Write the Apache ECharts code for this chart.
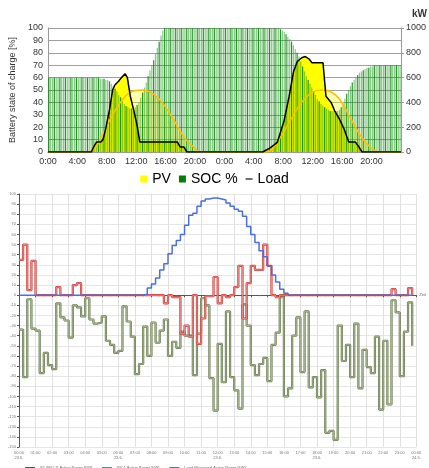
<!DOCTYPE html>
<html>
<head>
<meta charset="utf-8">
<script src="https://cdn.jsdelivr.net/npm/echarts@6/dist/echarts.min.js"></script>
<style>
html, body { margin: 0; padding: 0; background: #fff; }
#top { position: absolute; left: 0; top: 0; width: 429px; height: 188px; }
#bottom { position: absolute; left: 0; top: 188px; width: 429px; height: 280px; }
</style>
</head>
<body>
<div id="top"></div>
<div id="bottom"></div>
<script>
// ===== top chart data (two days, 15 min SOC bars) =====
var topTickLabels = ['0:00', '4:00', '8:00', '12:00', '16:00', '20:00',
                     '0:00', '4:00', '8:00', '12:00', '16:00', '20:00'];

var socDay1 = [
  60, 60, 60, 60, 60, 60, 60, 60,
  60, 60, 60, 60, 60, 60, 60, 60,
  60, 60, 60, 60, 60, 60, 60, 60,
  60, 60, 60, 60,
  59, 59, 59, 58, 58, 57, 55, 53, 51, 49, 46, 44,
  41, 39, 37, 36, 35, 35, 35, 36, 38, 40, 44, 48,
  52, 56, 61, 66, 70, 74, 79, 84, 89, 94, 98, 100,
  100, 100, 100, 100, 100, 100, 100, 100,
  100, 100, 100, 100, 100, 100, 100, 100,
  100, 100, 100, 100, 100, 100, 100, 100,
  100, 100, 100, 100, 100, 100, 100, 100
];
var socDay2 = [
  100, 100, 100, 100, 100, 100, 100, 100, 100, 100,
  100, 100, 100, 100, 100, 100, 100, 100, 100, 100,
  100, 100, 100, 100, 100, 100, 100, 100, 100, 100,
  99, 98, 97, 95, 93, 91, 89, 86, 83, 80, 77, 73,
  69, 65, 61, 58, 55, 52, 49, 46, 43, 41, 39, 37,
  36, 35, 34, 33, 33, 33, 33, 33, 34, 36, 39, 43,
  47, 50, 53, 56, 58, 60, 62, 64, 65, 66, 67, 68,
  68, 69, 69,
  70, 70, 70, 70, 70, 70, 70, 70, 70, 70, 70, 70, 70, 70, 70
];

// [hour, kW]
var loadKw = [
  [0, 0], [5.9, 0], [6.3, 50], [6.6, 80], [7.2, 80], [7.5, 100], [7.9, 200],
  [8.4, 350], [8.8, 500], [9.1, 540], [9.6, 570], [10.0, 600], [10.5, 630],
  [10.8, 600], [11.2, 450], [11.7, 330], [12.1, 220], [12.5, 80], [17.6, 80],
  [18.0, 40], [18.5, 40], [18.9, 0],
  [29.2, 0], [30.1, 30], [30.8, 60], [31.2, 80], [32.1, 250], [32.8, 450],
  [33.4, 650], [33.9, 730], [34.5, 760], [35.0, 770], [35.5, 750], [35.9, 720],
  [37.4, 720], [37.8, 450], [38.5, 400], [39.0, 330], [39.6, 270], [40.3, 180],
  [40.9, 80], [41.8, 80], [42.3, 40], [42.7, 0], [48, 0]
];

var pvCurveKw = [
  [0, 0], [5.5, 0], [6.5, 40], [7.5, 150], [8.8, 300], [10.1, 420], [11.5, 490],
  [13, 500], [14.5, 460], [15.9, 370], [17.2, 250], [18.5, 120], [19.8, 40],
  [20.7, 0], [29.7, 0], [31.4, 100], [33.2, 280], [34.5, 400], [35.9, 480],
  [37.2, 500], [38.3, 490], [39.6, 430], [40.9, 300], [42.3, 150], [43.8, 40],
  [45.1, 0], [48, 0]
];

// ===== bottom chart data (one day, 15 min steps) =====
var botTickLabels = [
  '00:00\n23.6.', '01:00', '02:00', '03:00', '04:00', '05:00',
  '06:00\n23.6.', '07:00', '08:00', '09:00', '10:00', '11:00',
  '12:00\n23.6.', '13:00', '14:00', '15:00', '16:00', '17:00',
  '18:00\n23.6.', '19:00', '20:00', '21:00', '22:00', '23:00',
  '00:00\n24.6.'
];
var botNames = ['S1 (MU-1) Active Power [kW]', 'PV 1 Active Power [kW]', 'Load Measured Active Power [kW]'];

var botGridKw = [
  35, 50, 5, 34, 0, 0, 0, 0, 0, 8,
  0, 0, 0, 10, 12, 0, 0, 0, 0, 0,
  0, 0, 0, 0, 0, 0, 0, 0, 0, 0,
  0, 0, 0, 0, 0, -8, 0, -2, -2, -38,
  -30, -41, 0, -48, -23, -1, -1, 18, -8, 0,
  -2, 0, 8, 29, -23, 12, 29, 25, 25, 50,
  29, 0, -2, 0, 0, 0, 0, 0, 0, 0,
  0, 0, 0, 0, 0, 0, 0, 0, 0, 0,
  0, 0, 0, 0, 0, 0, 0, 0, 0, 0,
  6, 0, 0, 0, 7, 0
];
var botPvKw = [
  0, 0, 0, 0, 0, 0, 0, 0, 0, 0,
  0, 0, 0, 0, 0, 0, 0, 0, 0, 0,
  0, 0, 0, 0, 0, 0, 0, 0, 0, 0,
  1, 7, 11, 17, 25, 31, 41, 49, 54, 60,
  69, 79, 81, 88, 93, 95, 96, 96, 95, 94,
  91, 88, 85, 83, 78, 68, 60, 52, 44, 38,
  29, 20, 13, 6, 2, 0, 0, 0, 0, 0,
  0, 0, 0, 0, 0, 0, 0, 0, 0, 0,
  0, 0, 0, 0, 0, 0, 0, 0, 0, 0,
  0, 0, 0, 0, 0, 0
];
var botLoadKw = [
  -34, -81, -4, -33, -35, -77, -57, -69, -73, -8,
  -22, -25, -42, -10, -12, -21, -3, -24, -28, -27,
  -21, -45, -49, -57, -55, -11, -26, -41, -78, -68,
  -31, -60, -27, -47, -35, -24, -60, -46, -52, -36,
  -40, -40, -79, -38, -3, -10, -82, -114, -48, -86,
  -16, -81, -94, -112, -9, -30, -69, -79, -68, -62,
  -85, -49, -37, -2, -100, -92, -40, -22, -76, -16,
  -91, -81, -101, -74, -136, -134, -143, -30, -65, -49,
  -81, -28, -92, -54, -71, -77, -41, -113, -45, -108,
  -5, -17, -80, -36, -7, -50
];

var FONT = '"Liberation Sans", Arial, sans-serif';

// 上图：SOC / PV / Load
(function() {
  var myChart = echarts.init(document.getElementById('top'));
  var soc = socDay1.concat(socDay2);
  var socData = soc.map(function(v, i) { return [i * 0.25 + 0.125, v]; });

  var option = {
    animation: false,
    textStyle: { fontFamily: FONT },
    grid: { left: 43, right: 23, top: 28, height: 124 },
    legend: {
      top: 167,
      left: 'center',
      itemWidth: 7,
      itemHeight: 7,
      itemGap: 8,
      textStyle: { fontSize: 14, color: '#000', fontFamily: FONT },
      data: [
        { name: 'PV', icon: 'rect', itemStyle: { color: '#ffff00' } },
        { name: 'SOC %', icon: 'rect', itemStyle: { color: '#008000' } },
        { name: 'Load', icon: 'path://M0,0H10V1.6H0Z', itemStyle: { color: '#000' } }
      ]
    },
    graphic: [
      {
        type: 'text', left: 412, top: 9,
        style: { text: 'kW', fontSize: 10, fontWeight: 'bold', fill: '#333', fontFamily: FONT }
      }
    ],
    xAxis: {
      type: 'value', min: 0, max: 48, interval: 4,
      axisLine: { lineStyle: { color: '#999' } },
      axisTick: { show: false },
      splitLine: { show: false },
      axisLabel: {
        fontSize: 9, color: '#333', margin: 5, showMaxLabel: false,
        formatter: function(v) { return topTickLabels[v / 4] || ''; }
      }
    },
    yAxis: [
      {
        type: 'value', min: 0, max: 100, interval: 10,
        name: 'Battery state of charge [%]',
        nameLocation: 'middle', nameGap: 26,
        nameTextStyle: { fontSize: 9, color: '#333' },
        axisLine: { show: true, lineStyle: { color: '#999' } },
        axisTick: { show: false },
        axisLabel: { fontSize: 9, color: '#333', margin: 5 },
        splitLine: { lineStyle: { color: '#a0a0a0' } }
      },
      {
        type: 'value', min: 0, max: 1000, interval: 200, position: 'right',
        axisLine: { show: true, lineStyle: { color: '#999' } },
        axisTick: { show: true, length: 3, lineStyle: { color: '#999' } },
        axisLabel: { fontSize: 9, color: '#333', margin: 5, formatter: function(v) { return String(v); } },
        splitLine: { show: false }
      }
    ],
    series: [
      {
        name: 'PV', type: 'line', yAxisIndex: 1, data: loadKw,
        symbol: 'none', lineStyle: { width: 0 },
        areaStyle: { color: '#ffff00', opacity: 1 }, z: 1
      },
      {
        name: 'PV curve fill', type: 'line', yAxisIndex: 1, data: pvCurveKw,
        smooth: 0.4, symbol: 'none', lineStyle: { width: 0 },
        areaStyle: { color: 'rgba(255,255,0,0.45)' }, z: 1
      },
      {
        name: 'SOC %', type: 'bar', data: socData, barWidth: 1.2,
        itemStyle: {
          color: function(p) {
            return p.dataIndex % 3 === 0 ? 'rgba(0,128,0,0.85)' : 'rgba(0,145,0,0.48)';
          }
        },
        z: 2
      },
      {
        name: 'PV curve', type: 'line', yAxisIndex: 1, data: pvCurveKw,
        smooth: 0.4, symbol: 'none',
        lineStyle: { color: '#ffc000', width: 1.5 }, z: 3
      },
      {
        name: 'Load', type: 'line', yAxisIndex: 1, data: loadKw,
        symbol: 'none', lineStyle: { color: '#000', width: 1.5 }, z: 4
      }
    ]
  };

  option && myChart.setOption(option);
  window.addEventListener('resize', function() { myChart.resize(); });
})();

// 下图：功率曲线
(function() {
  var myChart = echarts.init(document.getElementById('bottom'));
  function pairs(arr) { return arr.map(function(v, i) { return [i * 0.25, v]; }); }

  var option = {
    animation: false,
    textStyle: { fontFamily: FONT },
    grid: { left: 19, right: 11, top: 6, bottom: 21 },
    legend: {
      left: 20, top: 273,
      itemWidth: 10, itemHeight: 2, itemGap: 10,
      icon: 'rect',
      textStyle: { fontSize: 4, color: '#666' },
      data: botNames
    },
    xAxis: {
      type: 'value', min: 0, max: 24, interval: 1,
      name: 'Zeit', nameGap: 3,
      nameTextStyle: { fontSize: 4, color: '#666' },
      axisLine: { lineStyle: { color: '#555' } },
      axisTick: { length: 2, lineStyle: { color: '#555' } },
      minorTick: { show: true, splitNumber: 2, length: 1, lineStyle: { color: '#777' } },
      splitLine: { lineStyle: { color: '#e0e0e0' } },
      axisLabel: {
        fontSize: 4, color: '#777', margin: 3, lineHeight: 5,
        formatter: function(v) { return botTickLabels[v]; }
      }
    },
    yAxis: {
      type: 'value', min: -150, max: 100, interval: 10,
      axisLine: { show: true, lineStyle: { color: '#555' } },
      axisTick: { show: true, length: 2, lineStyle: { color: '#555' } },
      axisLabel: { fontSize: 4, color: '#777', margin: 3 },
      splitLine: { lineStyle: { color: '#e6e6e6' } }
    },
    series: [
      {
        name: botNames[2], type: 'line', step: 'end', data: pairs(botLoadKw),
        symbol: 'none', lineStyle: { color: '#66784a', width: 2.2 }, z: 2
      },
      {
        name: 'load inner', type: 'line', step: 'end', data: pairs(botLoadKw),
        symbol: 'none', lineStyle: { color: '#c3ceb2', width: 0.7 }, z: 3
      },
      {
        name: botNames[0], type: 'line', step: 'end', data: pairs(botGridKw),
        symbol: 'none', lineStyle: { color: '#cc3a36', width: 2.2 }, z: 4
      },
      {
        name: 'grid inner', type: 'line', step: 'end', data: pairs(botGridKw),
        symbol: 'none', lineStyle: { color: '#f0b0b0', width: 0.7 }, z: 5
      },
      {
        name: botNames[1], type: 'line', step: 'end', data: pairs(botPvKw),
        symbol: 'none', lineStyle: { color: '#4a6fe0', width: 1.5 }, z: 6
      }
    ]
  };

  option && myChart.setOption(option);
  window.addEventListener('resize', function() { myChart.resize(); });
})();
</script>
</body>
</html>
